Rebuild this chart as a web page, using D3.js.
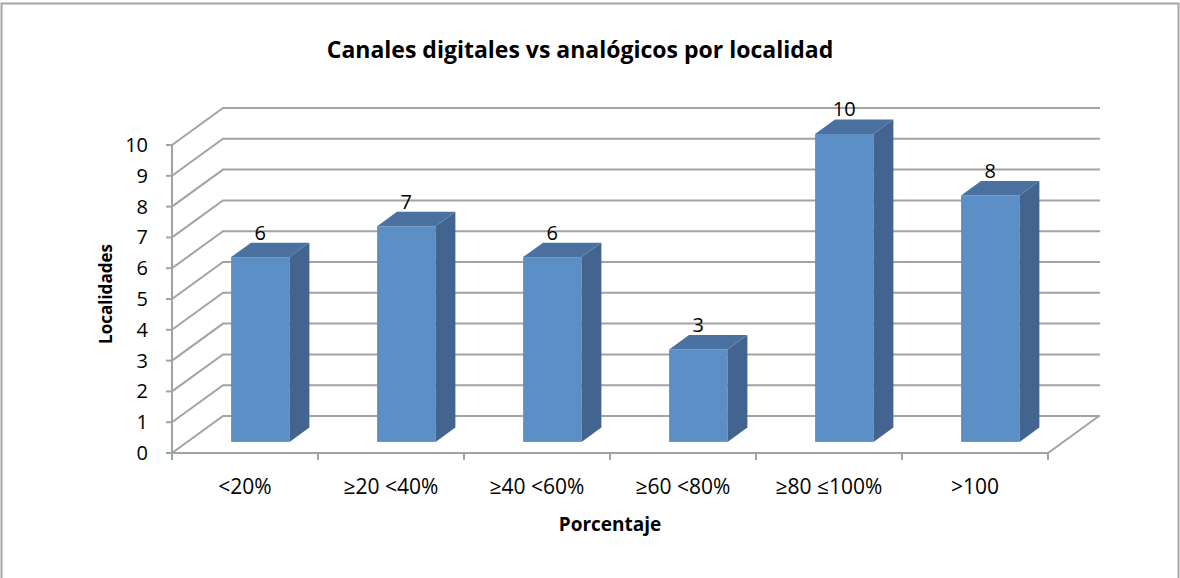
<!DOCTYPE html>
<html>
<head>
<meta charset="utf-8">
<script src="https://cdn.jsdelivr.net/npm/d3@7"></script>
<style>
  body { margin: 0; background: #fff; }
  text { font-family: "Open Sans", "Noto Sans", sans-serif; fill: #000; }
</style>
</head>
<body>
<div id="chart"></div>
<script>
const categories = ["<20%", "≥20 <40%", "≥40 <60%", "≥60 <80%", "≥80 ≤100%", ">100"];
const values = [6, 7, 6, 3, 10, 8];
const yTicks = [0, 1, 2, 3, 4, 5, 6, 7, 8, 9, 10];
const title = "Canales digitales vs analógicos por localidad";
const xTitle = "Porcentaje";
const yTitle = "Localidades";

const width = 1180, height = 578;
const left = 172, right = 1048, floorY = 453, topY = 145;
// depth offset of the back wall
const depthX = 51, depthY = -37;
// bars sit between these fractions of the depth
const barT0 = 0.3, barT1 = 0.69;

const svg = d3.select("#chart").append("svg")
  .attr("width", width)
  .attr("height", height);

// chart border
svg.append("rect")
  .attr("x", 1.5).attr("y", 3.5)
  .attr("width", 1177).attr("height", 590)
  .attr("fill", "none")
  .attr("stroke", "#a6a6a6")
  .attr("stroke-width", 2);

const x = d3.scaleBand()
  .domain(categories)
  .range([left, right])
  .paddingInner(0.6)
  .paddingOuter(0.3);

const y = d3.scaleLinear()
  .domain([0, 10])
  .range([floorY, topY]);

const grid = "#a3a3a3";

// gridlines along left wall and back wall
svg.append("g").selectAll("polyline")
  .data(yTicks)
  .enter()
  .append("polyline")
    .attr("points", d => [
      [left, y(d)],
      [left + depthX, y(d) + depthY],
      [right + depthX + 1, y(d) + depthY]
    ].join(" "))
    .attr("fill", "none")
    .attr("stroke", grid)
    .attr("stroke-width", 2);

// floor front edge and right edge
svg.append("polyline")
  .attr("points", [[left, floorY], [right, floorY], [right + depthX, floorY + depthY]].join(" "))
  .attr("fill", "none")
  .attr("stroke", grid)
  .attr("stroke-width", 2);

// vertical axis
svg.append("line")
  .attr("x1", left).attr("x2", left)
  .attr("y1", y(10)).attr("y2", floorY)
  .attr("stroke", grid).attr("stroke-width", 2);

const yAxis = svg.append("g");
yAxis.selectAll("line")
  .data(yTicks)
  .enter()
  .append("line")
    .attr("x1", left - 6).attr("x2", left)
    .attr("y1", d => y(d)).attr("y2", d => y(d))
    .attr("stroke", grid).attr("stroke-width", 2);
yAxis.selectAll("text")
  .data(yTicks)
  .enter()
  .append("text")
    .attr("x", 148)
    .attr("y", d => y(d) + 7)
    .attr("text-anchor", "end")
    .attr("font-size", "20px")
    .text(d => d);

// category ticks
const step = x.step();
const tickXs = d3.range(categories.length + 1).map(i => left + i * step);
svg.append("g").selectAll("line")
  .data(tickXs)
  .enter()
  .append("line")
    .attr("x1", d => d).attr("x2", d => d)
    .attr("y1", floorY).attr("y2", floorY + 7)
    .attr("stroke", grid).attr("stroke-width", 2);

svg.append("g").selectAll("text")
  .data(categories)
  .enter()
  .append("text")
    .attr("x", d => x(d) + x.bandwidth() / 2)
    .attr("y", 494)
    .attr("text-anchor", "middle")
    .attr("font-size", "21px")
    .text(d => d);

// bars
const bars = svg.append("g").selectAll("g")
  .data(values.map((v, i) => ({ cat: categories[i], v: v })))
  .enter()
  .append("g");

const fx0 = d => x(d.cat) + depthX * barT0;
const fx1 = d => x(d.cat) + x.bandwidth() + depthX * barT0;
const fBottom = floorY + depthY * barT0;
const fTop = d => y(d.v) + depthY * barT0;
const dd = barT1 - barT0;

bars.append("rect")
  .attr("x", fx0)
  .attr("y", fTop)
  .attr("width", x.bandwidth())
  .attr("height", d => fBottom - fTop(d))
  .attr("fill", "#5b8fc5");

bars.append("polygon")
  .attr("points", d => [
    [fx1(d), fTop(d)],
    [fx1(d) + depthX * dd, fTop(d) + depthY * dd],
    [fx1(d) + depthX * dd, fBottom + depthY * dd],
    [fx1(d), fBottom]
  ].join(" "))
  .attr("fill", "#42648e");

bars.append("polygon")
  .attr("points", d => [
    [fx0(d), fTop(d)],
    [fx1(d), fTop(d)],
    [fx1(d) + depthX * dd, fTop(d) + depthY * dd],
    [fx0(d) + depthX * dd, fTop(d) + depthY * dd]
  ].join(" "))
  .attr("fill", "#4a71a0");

bars.append("text")
  .attr("x", d => (fx0(d) + fx1(d)) / 2)
  .attr("y", d => fTop(d) + depthY * dd - 3)
  .attr("text-anchor", "middle")
  .attr("font-size", "20px")
  .text(d => d.v);

// titles
svg.append("text")
  .attr("x", 580).attr("y", 58)
  .attr("text-anchor", "middle")
  .attr("font-size", "23px")
  .attr("font-weight", "bold")
  .text(title);

svg.append("text")
  .attr("x", 610).attr("y", 531)
  .attr("text-anchor", "middle")
  .attr("font-size", "19px")
  .attr("font-weight", "bold")
  .text(xTitle);

svg.append("text")
  .attr("transform", "translate(112,294) rotate(-90)")
  .attr("text-anchor", "middle")
  .attr("font-size", "17px")
  .attr("font-weight", "bold")
  .text(yTitle);
</script>
</body>
</html>
